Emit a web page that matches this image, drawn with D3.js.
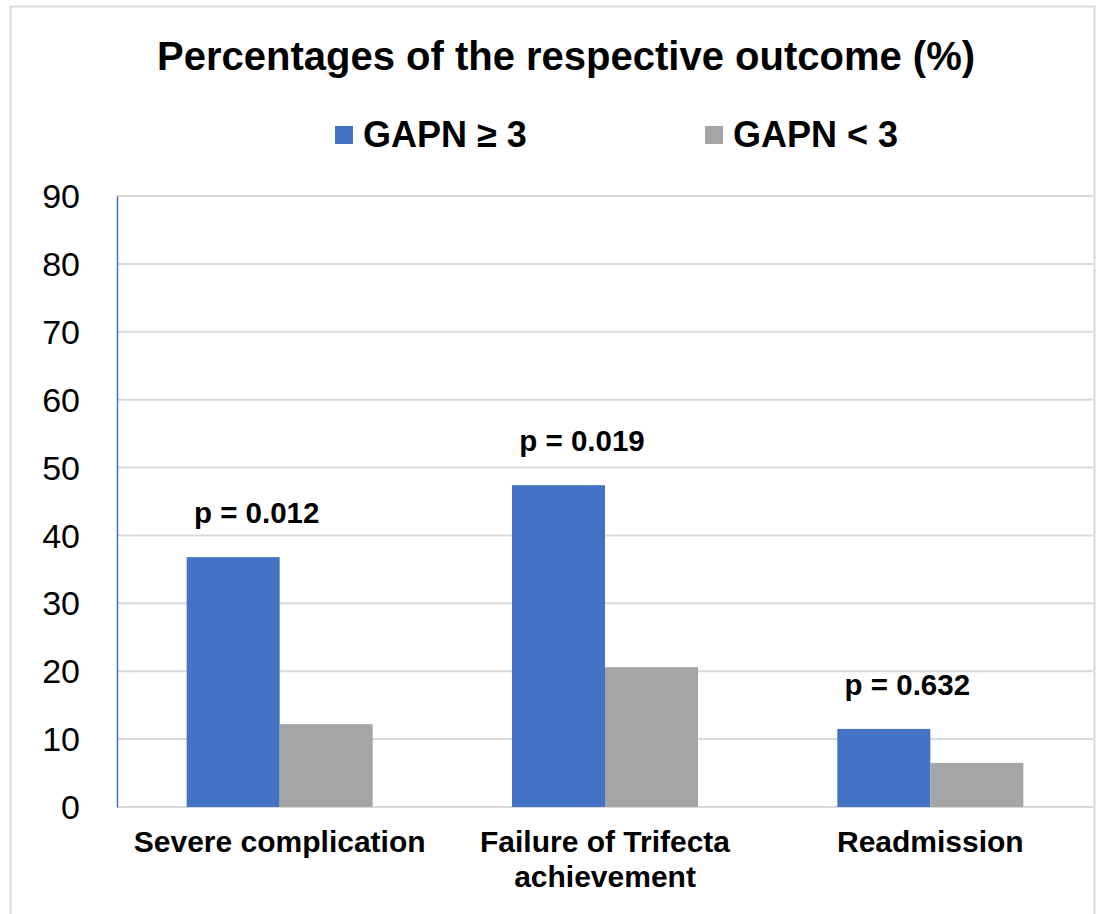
<!DOCTYPE html>
<html>
<head>
<meta charset="utf-8">
<title>Percentages of the respective outcome</title>
<script src="https://d3js.org/d3.v7.min.js"></script>
<style>
  body { margin: 0; background: #fff; }
  svg text { font-family: "Liberation Sans", Arial, sans-serif; fill: #000; }
</style>
</head>
<body>
<script>
// data
var categories = ['Severe complication', 'Failure of Trifecta achievement', 'Readmission'];
var series = ['GAPN \u2265 3', 'GAPN < 3'];
var gapnHigh = [36.8, 47.4, 11.5];
var gapnLow = [12.2, 20.6, 6.5];
var pValues = ['p = 0.012', 'p = 0.019', 'p = 0.632'];
var yTicks = [0, 10, 20, 30, 40, 50, 60, 70, 80, 90];
var colors = ['#4472C4', '#A5A5A5'];

var W = 1106, H = 914;
var mLeft = 117, mRight = 1093, mTop = 196, mBottom = 807;

var svg = d3.select('body').append('svg')
  .attr('width', W)
  .attr('height', H);

// frame
svg.append('rect')
  .attr('x', 10.5).attr('y', 6.5)
  .attr('width', 1084).attr('height', 920)
  .attr('fill', 'none')
  .attr('stroke', '#d9d9d9')
  .attr('stroke-width', 2);

var x = d3.scaleBand().domain(categories).range([mLeft, mRight]).paddingInner(0).paddingOuter(0);
var y = d3.scaleLinear().domain([0, 90]).range([mBottom, mTop]);
var bw = 93;

// gridlines
svg.append('g')
  .selectAll('line')
  .data(yTicks)
  .join('line')
  .attr('x1', mLeft).attr('x2', mRight)
  .attr('y1', d => y(d)).attr('y2', d => y(d))
  .attr('stroke', '#d9d9d9')
  .attr('stroke-width', 2);

// y axis
var yAxis = svg.append('g')
  .attr('transform', 'translate(' + mLeft + ',0)')
  .call(d3.axisLeft(y).tickValues(yTicks).tickSize(0).tickPadding(37));
yAxis.select('.domain').attr('stroke', '#4472C4').attr('stroke-width', 1.5);
yAxis.selectAll('text')
  .style('font-size', '34px')
  .attr('dy', '0.34em');

// bars
var rows = categories.map((c, i) => ({cat: c, vals: [gapnHigh[i], gapnLow[i]]}));
var groups = svg.append('g').selectAll('g')
  .data(rows)
  .join('g')
  .attr('transform', d => 'translate(' + (x(d.cat) + x.bandwidth() / 2) + ',0)');

groups.selectAll('rect')
  .data(d => d.vals)
  .join('rect')
  .attr('x', (d, i) => (i - 1) * bw)
  .attr('width', bw)
  .attr('y', d => y(d))
  .attr('height', d => mBottom - y(d))
  .attr('fill', (d, i) => colors[i]);

// p value labels
groups.append('text')
  .attr('x', -23)
  .attr('y', (d, i) => y(d.vals[0]) - 34)
  .attr('text-anchor', 'middle')
  .style('font-size', '29.5px')
  .style('font-weight', 'bold')
  .text((d, i) => pValues[i]);

// x labels
var xLabels = [['Severe complication'], ['Failure of Trifecta', 'achievement'], ['Readmission']];
groups.append('text')
  .attr('text-anchor', 'middle')
  .style('font-size', '30px')
  .style('font-weight', 'bold')
  .selectAll('tspan')
  .data((d, i) => xLabels[i])
  .join('tspan')
  .attr('x', 0)
  .attr('y', (d, j) => 852 + j * 35)
  .text(d => d);

// title
svg.append('text')
  .attr('x', 566).attr('y', 70)
  .attr('text-anchor', 'middle')
  .style('font-size', '40px')
  .style('font-weight', 'bold')
  .text('Percentages of the respective outcome (%)');

// legend
var legendX = [335, 705];
var legend = svg.append('g').selectAll('g')
  .data(series)
  .join('g')
  .attr('transform', (d, i) => 'translate(' + legendX[i] + ',126)');
legend.append('rect')
  .attr('width', 18).attr('height', 18)
  .attr('fill', (d, i) => colors[i]);
legend.append('text')
  .attr('x', 28).attr('y', 21)
  .style('font-size', '36px')
  .style('font-weight', 'bold')
  .text(d => d);
</script>
</body>
</html>
